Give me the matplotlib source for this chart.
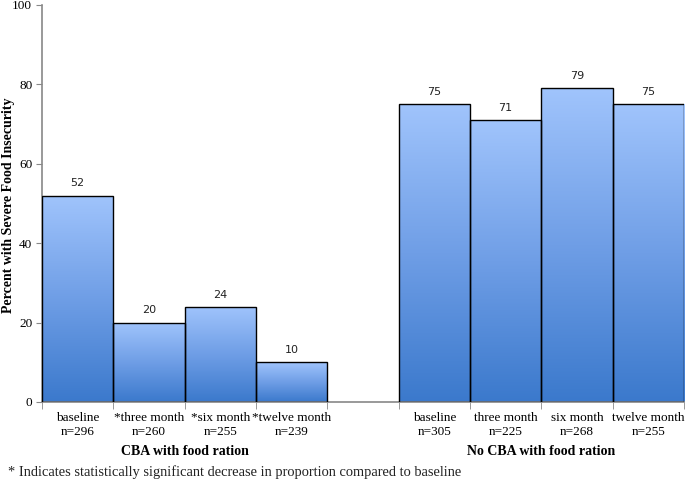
import matplotlib

matplotlib.use("Agg")
import matplotlib.pyplot as plt
import numpy as np
from matplotlib.colors import LinearSegmentedColormap
from matplotlib.patches import Rectangle

# Datos
cba_labels = ["baseline\nn=296", "*three month\nn=260", "*six month\nn=255", "*twelve month\nn=239"]
cba_values = [52, 20, 24, 10]
nocba_labels = ["baseline\nn=305", "three month\nn=225", "six month\nn=268", "twelve month\nn=255"]
nocba_values = [75, 71, 79, 75]
group_names = ["CBA with food ration", "No CBA with food ration"]
footnote = "* Indicates statistically significant decrease in proportion compared to baseline"

SERIF = "Liberation Serif"
grad = LinearSegmentedColormap.from_list("bar", ["#3b79cc", "#6f9ee6", "#a0c4fc"])

fig = plt.figure(figsize=(6.85, 4.9), dpi=100)
ax = fig.add_axes([0.0613, 0.1796, 0.937, 0.8102])

# posiciones: 4 barras, un hueco, 4 barras
pos = list(range(4)) + list(range(5, 9))
values = cba_values + nocba_values
labels = cba_labels + nocba_labels

ax.set_xlim(-0.5, 8.5)
ax.set_ylim(0, 100)

g = np.linspace(0, 1, 256).reshape(-1, 1)
for x, v in zip(pos, values):
    rect = Rectangle((x - 0.5, 0), 1, v, facecolor="none", edgecolor="black",
                     linewidth=1.0, zorder=3)
    ax.add_patch(rect)
    im = ax.imshow(g, cmap=grad, origin="lower", aspect="auto",
                   extent=(x - 0.5, x + 0.5, 0, v), zorder=2)
    im.set_clip_path(rect)
    ax.text(x, v + 1.8, str(v), ha="center", va="bottom", fontsize=8,
            family="DejaVu Sans", color="#222222")

ax.set_xticks(pos)
ax.set_xticklabels(labels, fontsize=9.5, family=SERIF, linespacing=1.25)
ax.set_xticks(np.arange(-0.5, 9, 1), minor=True)
ax.tick_params(axis="x", which="major", length=0, pad=7)
ax.tick_params(axis="x", which="minor", length=5, color="#888888", direction="out")

ax.set_yticks(range(0, 101, 20))
ax.set_yticklabels([str(t) for t in range(0, 101, 20)], fontsize=9.5, family=SERIF)
ax.tick_params(axis="y", length=4, color="#888888", direction="out", pad=3)

for s in ["top", "right"]:
    ax.spines[s].set_visible(False)
for s in ["left", "bottom"]:
    ax.spines[s].set_color("#888888")
    ax.spines[s].set_linewidth(1.2)

# titulo del eje y, puesto a mano para que no se corte
fig.text(9 / 685, 1 - 205 / 490, "Percent with Severe Food Insecurity", rotation=90,
         ha="center", va="center", fontsize=10, family=SERIF, fontweight="bold")

# etiquetas de grupo y nota al pie
for cx, name in zip([1.5, 6.5], group_names):
    ax.text(cx, -12.4, name, ha="center", va="center", fontsize=10, family=SERIF,
            fontweight="bold", transform=ax.transData, clip_on=False)
fig.text(0.012, 1 - 472 / 490, footnote, ha="left", va="center", fontsize=10.4,
         family=SERIF, color="#222222")

fig.savefig("out.png", dpi=100)
